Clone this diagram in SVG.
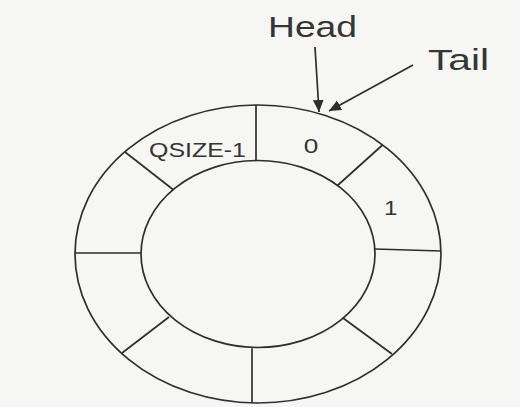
<svg xmlns="http://www.w3.org/2000/svg" width="520" height="407" viewBox="0 0 520 407">
  <defs>
    <marker id="ah" viewBox="0 0 10 10" refX="10" refY="5" markerWidth="6" markerHeight="6" markerUnits="userSpaceOnUse" orient="auto">
      <path d="M0,0 L10,5 L0,10 z" fill="#2e2e2e"/>
    </marker>
    <marker id="ah2" viewBox="0 0 10 10" refX="10" refY="5" markerWidth="12" markerHeight="12" markerUnits="userSpaceOnUse" orient="auto">
      <path d="M0,0.5 L10,5 L0,9.5 z" fill="#2e2e2e"/>
    </marker>
  </defs>
  <style>
    .ln { stroke: #2e2e2e; stroke-width: 1.7; fill: none; }
    .lbl { font-family: "Liberation Sans", Arial, sans-serif; fill: #353535; }
  </style>
  <rect width="520" height="407" fill="#f6f6f4"/>

  <g id="ring">
    <ellipse class="ln" cx="258" cy="254" rx="183" ry="149"/>
    <ellipse class="ln" cx="258" cy="254" rx="117" ry="93.5"/>
  </g>

  <g id="slots">
    <line class="ln" x1="256" y1="105" x2="256" y2="160.5"/>
    <line class="ln" x1="125" y1="152" x2="173" y2="189.5"/>
    <line class="ln" x1="382.5" y1="145" x2="337.5" y2="185.5"/>
    <line class="ln" x1="75" y1="253" x2="141" y2="253"/>
    <line class="ln" x1="375" y1="249" x2="441" y2="251"/>
    <line class="ln" x1="169" y1="317" x2="122" y2="353"/>
    <line class="ln" x1="343" y1="318" x2="392" y2="354"/>
    <line class="ln" x1="252" y1="348.3" x2="252" y2="403"/>
  </g>

  <g id="slot-labels">
    <text class="lbl" x="149" y="157" font-size="19.5" textLength="97" lengthAdjust="spacingAndGlyphs">QSIZE-1</text>
    <text class="lbl" x="303.7" y="153" font-size="21" textLength="14.6" lengthAdjust="spacingAndGlyphs">0</text>
    <text class="lbl" x="384" y="215" font-size="19.5" textLength="13.5" lengthAdjust="spacingAndGlyphs">1</text>
  </g>

  <g id="head">
    <text class="lbl" x="268" y="37" font-size="30" textLength="89" lengthAdjust="spacingAndGlyphs">Head</text>
  </g>
  <g id="tail">
    <text class="lbl" x="428" y="70" font-size="30" textLength="61" lengthAdjust="spacingAndGlyphs">Tail</text>
  </g>

  <g id="connectors">
    <line class="ln" x1="315" y1="47" x2="319" y2="112" stroke-width="1.5" marker-end="url(#ah2)"/>
    <line class="ln" x1="413" y1="65" x2="329" y2="111" stroke-width="1.5" marker-end="url(#ah2)"/>
  </g>
</svg>
